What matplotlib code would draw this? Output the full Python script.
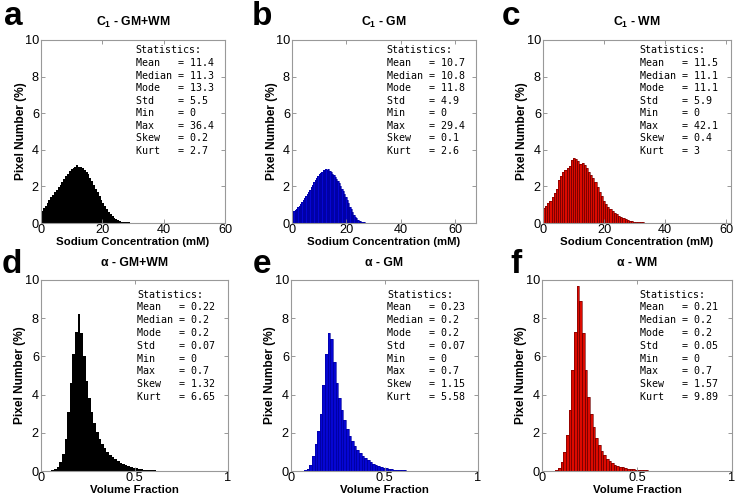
import numpy as np
import matplotlib
matplotlib.use("Agg")
import matplotlib.pyplot as plt
from matplotlib.ticker import FuncFormatter

plt.rcParams['font.family'] = ['Liberation Sans', 'DejaVu Sans']
plt.rcParams['mathtext.fontset'] = 'custom'
plt.rcParams['mathtext.rm'] = 'Liberation Sans:bold'
plt.rcParams['mathtext.it'] = 'Liberation Sans:bold'
plt.rcParams['mathtext.bf'] = 'Liberation Sans:bold'

# histogram heights (% of pixels per bin)
a_counts = [0.66, 0.80, 0.95, 1.10, 1.25, 1.40, 1.55, 1.68, 1.82, 1.96,
            2.10, 2.25, 2.40, 2.55, 2.68, 2.82, 2.95, 2.98, 3.05, 3.15,
            3.08, 3.06, 3.02, 2.92, 2.80, 2.66, 2.48, 2.28, 2.08, 1.88,
            1.68, 1.48, 1.28, 1.10, 0.92, 0.76, 0.60, 0.48, 0.37, 0.28,
            0.21, 0.15, 0.11, 0.08, 0.06, 0.045, 0.035, 0.028, 0.022, 0.018,
            0.014, 0.011, 0.009, 0.007, 0.006, 0.005, 0.004, 0.003, 0.002, 0.002]
b_counts = [0.58, 0.64, 0.72, 0.79, 0.87, 0.95, 1.03, 1.13, 1.23, 1.34,
            1.46, 1.57, 1.69, 1.82, 1.95, 2.09, 2.22, 2.35, 2.47, 2.57,
            2.67, 2.75, 2.80, 2.88, 2.90, 2.96, 2.92, 2.95, 2.85, 2.78,
            2.70, 2.62, 2.52, 2.40, 2.30, 2.16, 2.03, 1.88, 1.74, 1.58,
            1.43, 1.26, 1.08, 0.90, 0.74, 0.58, 0.45, 0.34, 0.25, 0.18,
            0.13, 0.09, 0.065, 0.045, 0.032, 0.022, 0.015, 0.011, 0.007, 0.005]
c_counts = [0.82, 0.95, 1.08, 1.22, 1.42, 1.62, 1.88, 2.35, 2.55, 2.78,
            2.88, 3.02, 3.12, 3.45, 3.55, 3.48, 3.38, 3.22, 3.28, 3.15,
            3.00, 2.78, 2.62, 2.45, 2.22, 1.98, 1.72, 1.45, 1.22, 1.02,
            0.86, 0.74, 0.64, 0.56, 0.48, 0.40, 0.32, 0.26, 0.21, 0.17,
            0.13, 0.10, 0.08, 0.06, 0.05, 0.04, 0.03, 0.025, 0.02, 0.016,
            0.013, 0.01, 0.008, 0.006, 0.005, 0.004, 0.003, 0.002, 0.002, 0.001]
d_counts = [0, 0, 0.005, 0.01, 0.03, 0.08, 0.2, 0.45, 0.9, 1.7,
            3.1, 4.6, 6.1, 7.3, 8.2, 7.2, 6.0, 4.7, 3.8, 3.1,
            2.5, 2.05, 1.7, 1.4, 1.18, 1.0, 0.85, 0.72, 0.62, 0.52,
            0.44, 0.37, 0.31, 0.26, 0.21, 0.17, 0.14, 0.11, 0.09, 0.07,
            0.055, 0.045, 0.035, 0.028, 0.022, 0.017, 0.013, 0.01, 0.007, 0.005]
e_counts = [0, 0, 0.003, 0.006, 0.015, 0.04, 0.1, 0.3, 0.8, 1.4,
            2.1, 3.0, 4.5, 6.1, 7.2, 6.9, 5.7, 4.6, 3.8, 3.2,
            2.65, 2.2, 1.85, 1.55, 1.3, 1.1, 0.95, 0.8, 0.67, 0.56,
            0.47, 0.39, 0.32, 0.26, 0.21, 0.17, 0.14, 0.11, 0.09, 0.07,
            0.055, 0.045, 0.035, 0.027, 0.02, 0.015, 0.012, 0.009, 0.006, 0.004]
f_counts = [0, 0, 0, 0.005, 0.02, 0.05, 0.15, 0.45, 1.0, 1.9,
            3.2, 5.3, 7.3, 9.7, 8.9, 7.2, 5.3, 3.9, 3.0, 2.3,
            1.75, 1.35, 1.05, 0.82, 0.65, 0.52, 0.42, 0.34, 0.28, 0.23,
            0.19, 0.16, 0.13, 0.11, 0.09, 0.075, 0.06, 0.05, 0.04, 0.032,
            0.026, 0.02, 0.016, 0.012, 0.009, 0.007, 0.005, 0.004, 0.003, 0.002]

stat_names = ['Mean', 'Median', 'Mode', 'Std', 'Min', 'Max', 'Skew', 'Kurt']
a_stats = ['11.4', '11.3', '13.3', '5.5', '0', '36.4', '0.2', '2.7']
b_stats = ['10.7', '10.8', '11.8', '4.9', '0', '29.4', '0.1', '2.6']
c_stats = ['11.5', '11.1', '11.1', '5.9', '0', '42.1', '0.4', '3']
d_stats = ['0.22', '0.2', '0.2', '0.07', '0', '0.7', '1.32', '6.65']
e_stats = ['0.23', '0.2', '0.2', '0.07', '0', '0.7', '1.15', '5.58']
f_stats = ['0.21', '0.2', '0.2', '0.05', '0', '0.7', '1.57', '9.89']

titles = [r'C$_1$ - GM+WM', r'C$_1$ - GM', r'C$_1$ - WM',
          'α - GM+WM', 'α - GM', 'α - WM']
letters = ['a', 'b', 'c', 'd', 'e', 'f']
n_bins_c1 = 60
n_bins_alpha = 50

W, H = 738, 496
fig = plt.figure(figsize=(W / 100, H / 100), dpi=100)


def px_axes(left, top, width, height):
    return fig.add_axes([left / W, 1 - (top + height) / H, width / W, height / H])


panels = [
    # counts, stats, max, nbins, face, edge, rect(px), xlim, xticks
    (a_counts, a_stats, 36.4, n_bins_c1, 'black', None, (41, 40, 184, 183), (0, 60), [0, 20, 40, 60]),
    (b_counts, b_stats, 29.4, n_bins_c1, '#0606d2', '#0000a0', (292, 40, 184, 183), (0, 67.7), [0, 20, 40, 60]),
    (c_counts, c_stats, 42.1, n_bins_c1, '#dc0a00', '#700000', (543, 40, 188, 183), (0, 61.5), [0, 20, 40, 60]),
    (d_counts, d_stats, 0.7, n_bins_alpha, 'black', None, (41, 280, 187, 191), (0, 1), [0, 0.5, 1]),
    (e_counts, e_stats, 0.7, n_bins_alpha, '#0606d2', '#0000a0', (291, 280, 187, 191), (0, 1), [0, 0.5, 1]),
    (f_counts, f_stats, 0.7, n_bins_alpha, '#dc0a00', '#700000', (542, 280, 190, 191), (0, 1), [0, 0.5, 1]),
]
letter_pos = [(4, 25), (252, 25), (502, 25), (2, 273), (253, 273), (510, 273)]

for i, (counts, stats, vmax, nb, face, edge, rect, xlim, xticks) in enumerate(panels):
    ax = px_axes(*rect)
    width = vmax / nb
    edges = np.arange(len(counts) + 1) * width
    # solid fill first, then bar outlines for the coloured panels
    ax.stairs(counts, edges, fill=True, color=face, linewidth=0)
    if edge is not None:
        ax.bar(edges[:-1], counts, width=width, align='edge', color='none',
               edgecolor=edge, linewidth=0.45)
    ax.set_xlim(*xlim)
    ax.set_ylim(0, 10)
    ax.set_xticks(xticks)
    ax.set_yticks([0, 2, 4, 6, 8, 10])
    ax.xaxis.set_major_formatter(FuncFormatter(lambda v, p: f'{v:g}'))
    ax.tick_params(direction='in', length=3, width=0.6, color='#888888',
                   top=True, right=True, labelsize=9.2, pad=1.5)
    ax.tick_params(axis='x', pad=0.5)
    for s in ax.spines.values():
        s.set_color('#999999')
        s.set_linewidth(0.8)
    top_row = i < 3
    ax.set_title(titles[i], fontsize=8.8, fontweight='bold', pad=10)
    ax.set_xlabel('Sodium Concentration (mM)' if top_row else 'Volume Fraction',
                  fontsize=8.2, fontweight='bold', va='top')
    ax.xaxis.set_label_coords(0.5, -0.075 if top_row else -0.072)
    ax.set_ylabel('Pixel Number (%)', fontsize=8.6, fontweight='bold')
    ax.yaxis.set_label_coords(-0.078, 0.5)

    y0 = 0.943 if top_row else 0.924
    dy = 0.0687 if top_row else 0.067
    lines = ['Statistics:'] + [f'{n:<6} = {v}' for n, v in zip(stat_names, stats)]
    for k, line in enumerate(lines):
        ax.text(0.515, y0 - k * dy, line, transform=ax.transAxes, va='center',
                ha='left', family='DejaVu Sans Mono', fontsize=7.2)

    lx, ly = letter_pos[i]
    fig.text(lx / W, 1 - ly / H, letters[i], fontsize=24, fontweight='bold',
             va='baseline', ha='left')

fig.savefig('out.png', dpi=100)
